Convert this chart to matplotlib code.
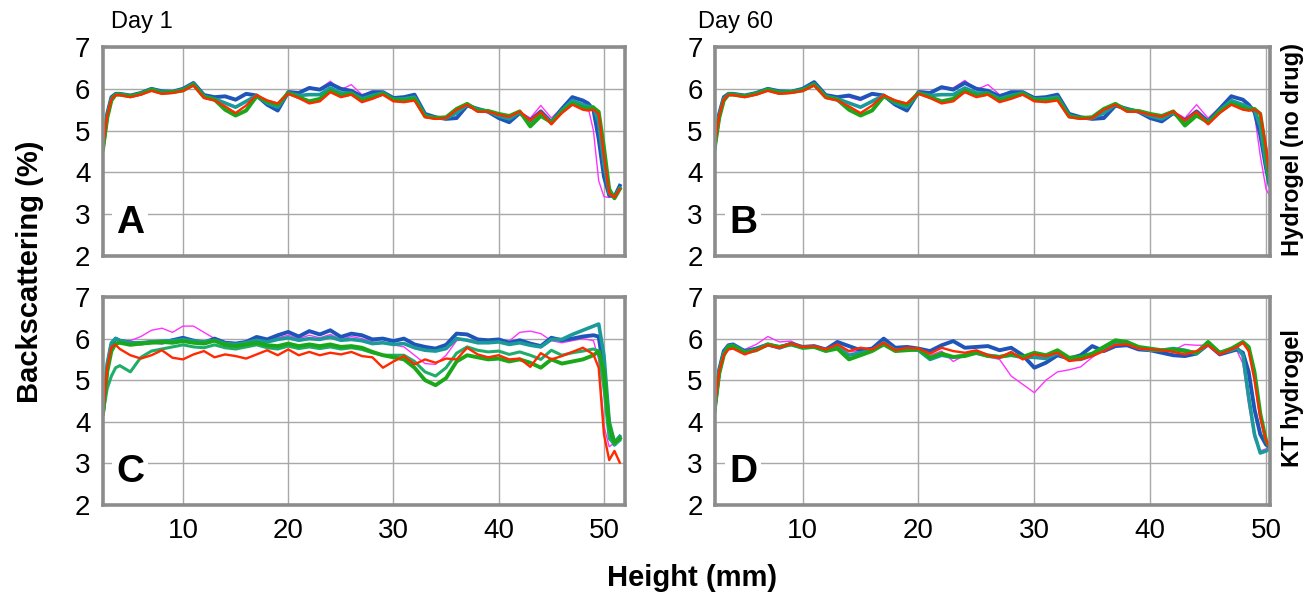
import numpy as np
import matplotlib
matplotlib.use('Agg')
import matplotlib.pyplot as plt

plt.rcParams['font.family'] = ['Liberation Sans', 'DejaVu Sans']

# ---- data (% backscattering vs height in mm) ----
x_a = [2.4, 2.8, 3.2, 3.6] + list(range(4, 49)) + [48.5, 49, 49.5, 50, 50.5, 51, 51.5]
a_magenta = [4.65, 5.4, 5.8, 5.88, 5.88, 5.84, 5.9, 6.02, 5.94, 5.94, 6.0, 6.14, 5.85, 5.8, 5.8, 5.72,
             5.86, 5.84, 5.62, 5.5, 5.95, 5.92, 6.04, 6.0, 6.18, 5.98, 6.1, 5.86, 5.92, 5.92, 5.78, 5.8,
             5.86, 5.4, 5.3, 5.28, 5.32, 5.62, 5.52, 5.45, 5.32, 5.25, 5.45, 5.3, 5.6, 5.3, 5.55, 5.82,
             5.7, 5.55, 5.0, 3.8, 3.42, 3.4, 3.45, 3.6]
a_blue = [4.65, 5.4, 5.8, 5.88, 5.88, 5.84, 5.9, 6.0, 5.94, 5.93, 6.0, 6.14, 5.85, 5.8, 5.82, 5.74,
          5.88, 5.84, 5.62, 5.48, 5.92, 5.9, 6.02, 5.98, 6.12, 6.0, 5.95, 5.82, 5.92, 5.92, 5.78, 5.8,
          5.86, 5.4, 5.32, 5.28, 5.3, 5.6, 5.52, 5.45, 5.3, 5.2, 5.42, 5.24, 5.46, 5.2, 5.52, 5.8,
          5.72, 5.65, 5.5, 4.8, 3.9, 3.45, 3.42, 3.68]
a_teal = [4.6, 5.35, 5.76, 5.87, 5.87, 5.83, 5.88, 5.99, 5.92, 5.92, 5.98, 6.12, 5.82, 5.76, 5.66, 5.56,
          5.7, 5.84, 5.66, 5.56, 5.9, 5.84, 5.86, 5.86, 6.02, 5.9, 5.9, 5.76, 5.84, 5.9, 5.75, 5.76,
          5.8, 5.36, 5.3, 5.3, 5.42, 5.62, 5.5, 5.46, 5.35, 5.28, 5.44, 5.18, 5.42, 5.18, 5.48, 5.72,
          5.62, 5.58, 5.56, 5.2, 4.2, 3.5, 3.4, 3.62]
a_green = [4.55, 5.3, 5.72, 5.86, 5.86, 5.82, 5.88, 5.98, 5.9, 5.92, 5.96, 6.1, 5.8, 5.74, 5.5, 5.36,
           5.48, 5.82, 5.7, 5.62, 5.9, 5.8, 5.7, 5.76, 5.95, 5.84, 5.88, 5.72, 5.8, 5.88, 5.74, 5.72,
           5.76, 5.34, 5.3, 5.32, 5.52, 5.64, 5.48, 5.47, 5.4, 5.35, 5.46, 5.1, 5.35, 5.2, 5.45, 5.65,
           5.55, 5.52, 5.55, 5.45, 4.6, 3.6, 3.38, 3.6]
a_red = [4.6, 5.35, 5.75, 5.85, 5.85, 5.8, 5.86, 5.95, 5.88, 5.9, 5.95, 6.08, 5.78, 5.72, 5.58, 5.42,
         5.6, 5.85, 5.72, 5.65, 5.88, 5.78, 5.65, 5.7, 5.92, 5.8, 5.86, 5.68, 5.76, 5.86, 5.7, 5.68,
         5.72, 5.32, 5.28, 5.3, 5.5, 5.62, 5.45, 5.45, 5.38, 5.33, 5.46, 5.24, 5.45, 5.15, 5.42, 5.62,
         5.5, 5.48, 5.5, 5.4, 4.4, 3.5, 3.4, 3.6]

x_b = [2.4, 2.8, 3.2, 3.6] + list(range(4, 49)) + [48.5, 49, 49.5, 50, 50.3]
b_magenta = [4.65, 5.4, 5.8, 5.88, 5.88, 5.84, 5.9, 6.02, 5.94, 5.95, 6.0, 6.14, 5.85, 5.8, 5.8, 5.72,
             5.86, 5.84, 5.64, 5.52, 5.96, 5.92, 6.05, 6.02, 6.2, 5.98, 6.1, 5.86, 5.92, 5.92, 5.78, 5.8,
             5.86, 5.4, 5.3, 5.3, 5.34, 5.62, 5.52, 5.46, 5.34, 5.26, 5.46, 5.3, 5.62, 5.3, 5.55, 5.85,
             5.72, 5.6, 5.4, 4.4, 3.6, 3.45]
b_blue = [4.65, 5.4, 5.8, 5.88, 5.88, 5.84, 5.9, 6.0, 5.94, 5.93, 6.0, 6.16, 5.85, 5.8, 5.84, 5.76,
          5.88, 5.84, 5.62, 5.48, 5.92, 5.9, 6.04, 5.98, 6.14, 6.0, 5.95, 5.82, 5.92, 5.92, 5.78, 5.8,
          5.86, 5.4, 5.32, 5.28, 5.3, 5.6, 5.52, 5.45, 5.3, 5.22, 5.42, 5.24, 5.46, 5.22, 5.52, 5.82,
          5.74, 5.62, 5.45, 4.9, 4.1, 3.7]
b_teal = [4.6, 5.35, 5.76, 5.87, 5.87, 5.83, 5.88, 5.99, 5.92, 5.92, 5.98, 6.12, 5.82, 5.76, 5.66, 5.56,
          5.7, 5.84, 5.66, 5.56, 5.9, 5.84, 5.86, 5.86, 6.02, 5.9, 5.9, 5.76, 5.84, 5.9, 5.75, 5.76,
          5.8, 5.36, 5.3, 5.3, 5.42, 5.62, 5.5, 5.46, 5.35, 5.28, 5.44, 5.18, 5.42, 5.18, 5.48, 5.72,
          5.62, 5.56, 5.5, 5.1, 4.2, 3.75]
b_green = [4.55, 5.3, 5.72, 5.86, 5.86, 5.82, 5.88, 5.98, 5.9, 5.92, 5.96, 6.1, 5.8, 5.74, 5.5, 5.36,
           5.48, 5.82, 5.7, 5.62, 5.9, 5.8, 5.7, 5.76, 5.95, 5.84, 5.88, 5.72, 5.8, 5.88, 5.74, 5.72,
           5.76, 5.34, 5.3, 5.32, 5.52, 5.64, 5.48, 5.47, 5.4, 5.35, 5.46, 5.12, 5.36, 5.2, 5.45, 5.65,
           5.55, 5.5, 5.52, 5.4, 4.5, 3.8]
b_red = [4.6, 5.35, 5.75, 5.85, 5.85, 5.8, 5.86, 5.95, 5.88, 5.9, 5.95, 6.08, 5.78, 5.72, 5.58, 5.42,
         5.6, 5.85, 5.72, 5.65, 5.88, 5.78, 5.65, 5.7, 5.92, 5.8, 5.86, 5.68, 5.76, 5.86, 5.7, 5.68,
         5.72, 5.32, 5.28, 5.3, 5.5, 5.62, 5.45, 5.45, 5.38, 5.33, 5.46, 5.24, 5.45, 5.15, 5.42, 5.62,
         5.5, 5.48, 5.5, 5.42, 4.6, 3.9]

x_c = [2.4, 2.8, 3.2, 3.6] + list(range(4, 50)) + [49.5, 50, 50.5, 51, 51.5]
c_magenta = [4.2, 5.35, 5.85, 5.98, 5.95, 5.95, 6.05, 6.2, 6.25, 6.15, 6.3, 6.3, 6.15, 6.0, 5.92, 5.9,
             5.9, 5.98, 5.94, 6.02, 6.08, 6.0, 6.08, 6.02, 6.1, 5.98, 6.05, 6.0, 5.92, 5.9, 5.85, 5.8,
             5.6, 5.4, 5.38, 5.6, 5.95, 5.98, 5.92, 5.9, 5.95, 5.94, 6.15, 6.18, 6.12, 5.95, 5.9, 5.95,
             6.0, 5.95, 5.5, 3.9, 3.4, 3.5, 3.6]
c_blue = [4.2, 5.3, 5.85, 6.0, 5.95, 5.9, 5.88, 5.92, 5.9, 5.96, 6.02, 5.95, 5.9, 6.0, 5.9, 5.88,
          5.92, 6.04, 5.98, 6.08, 6.16, 6.05, 6.18, 6.1, 6.2, 6.04, 6.12, 6.08, 5.98, 6.0, 5.94, 6.0,
          5.86, 5.8, 5.76, 5.85, 6.12, 6.1, 5.98, 5.96, 5.98, 5.9, 5.96, 5.88, 5.82, 6.02, 5.96, 6.0,
          6.05, 6.08, 6.05, 5.2, 3.8, 3.45, 3.6]
c_teal = [4.2, 5.4, 5.9, 6.0, 5.95, 5.9, 5.9, 5.92, 5.94, 5.95, 5.98, 5.94, 5.92, 5.96, 5.88, 5.86,
          5.9, 5.96, 5.92, 5.98, 6.02, 5.96, 6.0, 5.98, 6.04, 5.96, 5.98, 5.95, 5.88, 5.9, 5.86, 5.88,
          5.78, 5.72, 5.7, 5.76, 6.0, 5.96, 5.9, 5.9, 5.92, 5.86, 5.9, 5.84, 5.8, 5.98, 5.98, 6.1,
          6.2, 6.3, 6.35, 5.6, 4.0, 3.5, 3.65]
c_lightgreen = [4.2, 4.8, 5.1, 5.3, 5.35, 5.2, 5.55, 5.7, 5.75, 5.8, 5.85, 5.8, 5.78, 5.85, 5.78, 5.75,
                5.8, 5.85, 5.78, 5.75, 5.82, 5.76, 5.8, 5.76, 5.8, 5.75, 5.78, 5.74, 5.66, 5.6, 5.6, 5.6,
                5.45, 5.2, 5.1, 5.3, 5.65, 5.8, 5.72, 5.68, 5.7, 5.62, 5.68, 5.6, 5.5, 5.72, 5.6, 5.66,
                5.7, 5.75, 5.7, 4.8, 3.6, 3.45, 3.55]
c_green = [4.2, 5.2, 5.7, 5.88, 5.9, 5.85, 5.88, 5.9, 5.92, 5.9, 5.94, 5.9, 5.88, 5.95, 5.85, 5.82,
           5.86, 5.9, 5.84, 5.82, 5.88, 5.82, 5.86, 5.82, 5.86, 5.8, 5.82, 5.78, 5.68, 5.6, 5.55, 5.5,
           5.3, 5.0, 4.88, 5.05, 5.45, 5.6, 5.55, 5.5, 5.52, 5.45, 5.5, 5.42, 5.3, 5.5, 5.4, 5.45,
           5.5, 5.6, 5.7, 5.2, 3.9, 3.5, 3.6]
c_red = [4.2, 5.3, 5.8, 5.85, 5.75, 5.6, 5.52, 5.6, 5.72, 5.54, 5.5, 5.62, 5.7, 5.55, 5.62, 5.58,
         5.52, 5.62, 5.72, 5.6, 5.74, 5.6, 5.68, 5.6, 5.66, 5.62, 5.68, 5.58, 5.55, 5.3, 5.45, 5.58,
         5.38, 5.5, 5.42, 5.52, 5.5, 5.78, 5.62, 5.55, 5.6, 5.5, 5.52, 5.32, 5.65, 5.5, 5.58, 5.68,
         5.78, 5.62, 5.3, 3.7, 3.08, 3.3, 3.02]

x_d = [2.4, 2.8, 3.2, 3.6] + list(range(4, 48)) + [47.5, 48, 48.5, 49, 49.5, 50, 50.3]
d_magenta = [4.4, 5.3, 5.7, 5.8, 5.8, 5.74, 5.86, 6.05, 5.92, 5.94, 5.8, 5.8, 5.72, 5.8, 5.68, 5.7,
             5.74, 5.86, 5.72, 5.74, 5.72, 5.6, 5.7, 5.45, 5.6, 5.62, 5.56, 5.5, 5.1, 4.9, 4.7, 5.0,
             5.2, 5.25, 5.32, 5.55, 5.75, 5.9, 5.86, 5.76, 5.74, 5.7, 5.72, 5.86, 5.84, 5.84, 5.62, 5.72,
             5.7, 5.4, 4.4, 3.6, 3.3, 3.35, 3.4]
d_blue = [4.3, 5.25, 5.7, 5.84, 5.86, 5.7, 5.76, 5.86, 5.78, 5.88, 5.8, 5.82, 5.74, 5.92, 5.82, 5.72,
          5.76, 6.0, 5.78, 5.8, 5.76, 5.7, 5.84, 5.94, 5.78, 5.8, 5.82, 5.72, 5.78, 5.6, 5.3, 5.42,
          5.6, 5.52, 5.6, 5.82, 5.7, 5.82, 5.84, 5.74, 5.72, 5.66, 5.6, 5.58, 5.64, 5.86, 5.62, 5.7,
          5.74, 5.66, 5.2, 4.3, 3.7, 3.45, 3.4]
d_teal = [4.3, 5.2, 5.65, 5.82, 5.84, 5.68, 5.74, 5.85, 5.8, 5.86, 5.78, 5.8, 5.72, 5.8, 5.6, 5.66,
          5.72, 5.9, 5.72, 5.74, 5.72, 5.5, 5.6, 5.55, 5.6, 5.68, 5.6, 5.56, 5.6, 5.55, 5.55, 5.52,
          5.65, 5.5, 5.5, 5.6, 5.78, 5.92, 5.9, 5.78, 5.72, 5.72, 5.76, 5.72, 5.64, 5.88, 5.66, 5.72,
          5.78, 5.6, 4.6, 3.7, 3.25, 3.3, 3.35]
d_green = [4.25, 5.15, 5.6, 5.8, 5.82, 5.66, 5.72, 5.86, 5.8, 5.86, 5.78, 5.8, 5.7, 5.76, 5.5, 5.6,
           5.7, 5.86, 5.7, 5.72, 5.74, 5.54, 5.64, 5.56, 5.58, 5.66, 5.58, 5.56, 5.62, 5.56, 5.66, 5.6,
           5.72, 5.54, 5.56, 5.64, 5.8, 5.96, 5.92, 5.8, 5.76, 5.72, 5.74, 5.7, 5.66, 5.92, 5.66, 5.76,
           5.84, 5.92, 5.8, 5.2, 4.2, 3.55, 3.4]
d_red = [4.3, 5.2, 5.6, 5.74, 5.76, 5.62, 5.72, 5.84, 5.78, 5.88, 5.8, 5.82, 5.74, 5.86, 5.7, 5.78,
         5.74, 5.9, 5.72, 5.78, 5.76, 5.64, 5.78, 5.7, 5.66, 5.72, 5.6, 5.54, 5.68, 5.5, 5.62, 5.58,
         5.66, 5.46, 5.5, 5.58, 5.7, 5.85, 5.86, 5.76, 5.74, 5.72, 5.68, 5.62, 5.7, 5.84, 5.62, 5.74,
         5.8, 5.9, 5.7, 5.0, 4.1, 3.55, 3.4]

y_ticks = [2, 3, 4, 5, 6, 7]
x_ticks = [10, 20, 30, 40, 50]

# colour / width per scan group (first scan magenta ... last scan red)
style = {
    'magenta': ('#ff33ff', 1.0),
    'blue': ('#1f55b8', 2.8),
    'teal': ('#1b9a9a', 2.6),
    'lightgreen': ('#1fae6a', 2.2),
    'green': ('#1aa81a', 2.8),
    'red': ('#ff2a00', 1.7),
}

fig = plt.figure(figsize=(13.14, 5.96), dpi=100)
W, H = 1314, 596


def rect(l, r, t, b):
    return [l / W, 1 - b / H, (r - l) / W, (b - t) / H]


panels = [
    ('A', rect(103, 625, 47, 256), (2.4, 52.0), x_a,
     [('magenta', a_magenta), ('blue', a_blue), ('teal', a_teal), ('green', a_green), ('red', a_red)]),
    ('B', rect(715, 1270, 47, 256), (2.44, 50.34), x_b,
     [('magenta', b_magenta), ('blue', b_blue), ('teal', b_teal), ('green', b_green), ('red', b_red)]),
    ('C', rect(103, 625, 297, 505), (2.4, 52.0), x_c,
     [('magenta', c_magenta), ('blue', c_blue), ('teal', c_teal), ('lightgreen', c_lightgreen),
      ('green', c_green), ('red', c_red)]),
    ('D', rect(715, 1270, 297, 505), (2.44, 50.34), x_d,
     [('magenta', d_magenta), ('blue', d_blue), ('teal', d_teal), ('green', d_green), ('red', d_red)]),
]

for letter, r, xlim, xs, series in panels:
    ax = fig.add_axes(r)
    for name, ys in series:
        c, lw = style[name]
        ax.plot(xs, ys, color=c, lw=lw, solid_joinstyle='round')
    ax.set_xlim(*xlim)
    ax.set_ylim(2, 7)
    ax.set_yticks(y_ticks)
    ax.set_xticks(x_ticks)
    ax.grid(True, color='#a8a8a8', lw=1.0)
    ax.set_axisbelow(True)
    for sp in ax.spines.values():
        sp.set_color('#8c8c8c')
        sp.set_linewidth(2.6)
    ax.tick_params(length=0, labelsize=20, pad=9)
    if letter in ('A', 'B'):
        ax.tick_params(labelbottom=False)
    ax.text(0.025, 0.16, letter, transform=ax.transAxes, fontsize=28, fontweight='bold',
            va='center', ha='left',
            bbox=dict(facecolor='white', edgecolor='none', pad=3))

fig.text(111 / W, 1 - 22 / H, 'Day 1', fontsize=17, va='center', ha='left')
fig.text(698 / W, 1 - 22 / H, 'Day 60', fontsize=17, va='center', ha='left')
fig.text(30 / W, 1 - 272 / H, 'Backscattering (%)', fontsize=21, fontweight='bold',
         rotation=90, va='center', ha='center')
fig.text(692 / W, 1 - 578 / H, 'Height (mm)', fontsize=21, fontweight='bold',
         va='center', ha='center')
fig.text(1292 / W, 1 - 150 / H, 'Hydrogel (no drug)', fontsize=17, fontweight='bold',
         rotation=90, va='center', ha='center')
fig.text(1292 / W, 1 - 398 / H, 'KT hydrogel', fontsize=17, fontweight='bold',
         rotation=90, va='center', ha='center')

fig.savefig('out.png', dpi=100)
